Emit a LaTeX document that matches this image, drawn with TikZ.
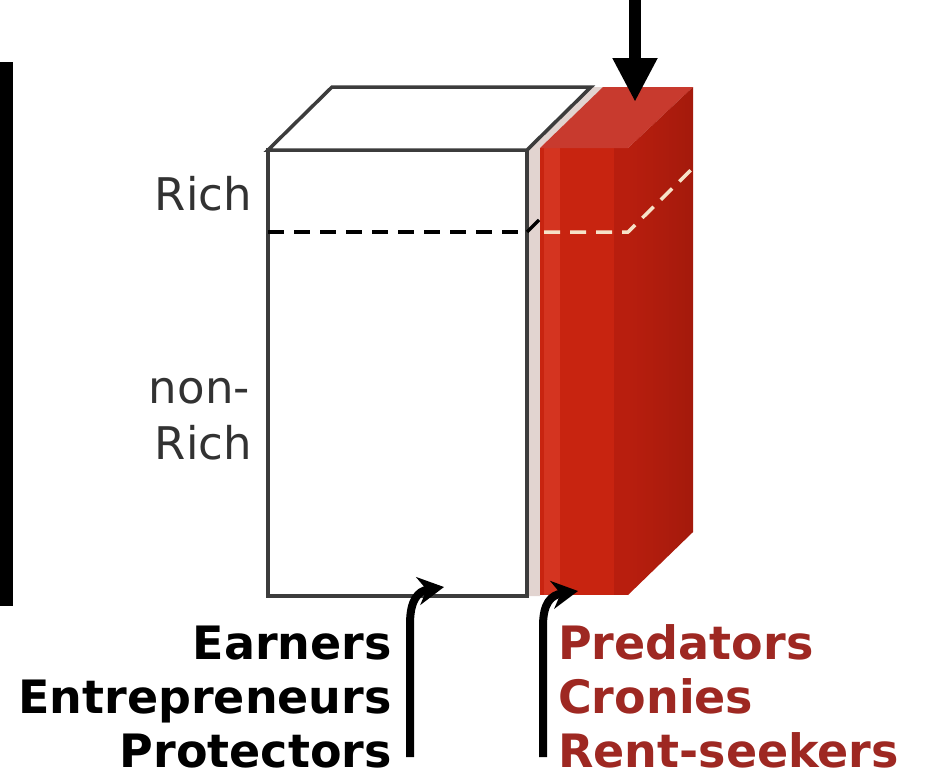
\documentclass[tikz,border=0pt]{standalone}
\usepackage{fontspec}
\setmainfont{DejaVu Sans}
\usetikzlibrary{arrows.meta}
\definecolor{redfront}{RGB}{200,36,16}
\definecolor{redlight}{RGB}{212,52,32}
\definecolor{reddark}{RGB}{184,30,14}
\definecolor{redside}{RGB}{164,26,12}
\definecolor{redtop}{RGB}{200,58,46}
\definecolor{stripgray}{RGB}{226,212,208}
\definecolor{boxgray}{RGB}{60,60,60}
\definecolor{labelgray}{RGB}{50,50,50}
\definecolor{labelred}{RGB}{158,40,34}
\definecolor{creamdash}{RGB}{246,226,200}
\tikzset{
  boxline/.style={draw=boxgray, line width=3.5pt, line join=miter},
  richlabel/.style={anchor=base east, inner sep=0pt, text=labelgray, font=\fontsize{45}{45}\selectfont},
  goodlabel/.style={anchor=base east, inner sep=0pt, text=black, font=\bfseries\fontsize{46}{46}\selectfont},
  badlabel/.style={anchor=base west, inner sep=0pt, text=labelred, font=\bfseries\fontsize{46}{46}\selectfont},
  splitdash/.style={line width=3.5pt, dash pattern=on 16pt off 10pt},
  curvearrow/.style={line width=8pt, -{Stealth[width=28pt,length=26pt]}},
}
\begin{document}
\begin{tikzpicture}[x=1pt,y=-1pt]
\useasboundingbox (0,0) rectangle (925,780);
\fill[white] (0,0) rectangle (925,780);
% left bar
\fill[black] (0,62) rectangle (13,606);
% white box
\coordinate (wFTL) at (268,150);
\coordinate (wFTR) at (527,150);
\coordinate (wFBL) at (268,596);
\coordinate (wFBR) at (527,596);
\coordinate (wBTL) at (332,87);
\coordinate (wBTR) at (591,87);
\fill[stripgray] (wFTR) -- (wBTR) -- (603,87) -- (540,148) -- (540,596) -- (wFBR) -- cycle;
\draw[boxline, fill=white] (wFBL) rectangle (wFTR);
\draw[boxline, fill=white] (wFTL) -- (wBTL) -- (wBTR) -- (wFTR) -- cycle;
% red box
\coordinate (rFTL) at (540,148);
\coordinate (rFTR) at (628,148);
\coordinate (rFBL) at (540,595);
\coordinate (rFBR) at (628,595);
\coordinate (rBTL) at (603,87);
\coordinate (rBTR) at (693,87);
\coordinate (rBBR) at (693,532);
\fill[redfront] (rFBL) rectangle (rFTR);
\fill[redlight] (544,148) rectangle (560,595);
\fill[reddark] (614,148) rectangle (628,595);
\fill[redtop] (rFTL) -- (rBTL) -- (rBTR) -- (rFTR) -- cycle;
\shade[left color=reddark, right color=redside] (rFTR) -- (rBTR) -- (rBBR) -- (rFBR) -- cycle;
% split line
\draw[splitdash, black] (268,232) -- (527,232);
\draw[line width=3.5pt, black] (527,232) -- (539,220);
\draw[splitdash, creamdash] (544,232) -- (628,232) -- (693,168);
% top arrow
\coordinate (topin) at (635,-5);
\coordinate (redin) at (635,102);
\draw[line width=12pt, -{Triangle[width=42pt,length=44pt]}] (topin) -- (redin);
% bottom arrows
\coordinate (lbot) at (410,757);
\coordinate (ltip) at (444,587);
\draw[curvearrow] (lbot) -- (410,624) .. controls (410,600) and (418,591) .. (ltip);
\coordinate (rbot) at (543,757);
\coordinate (rtip) at (578,591);
\draw[curvearrow] (rbot) -- (543,626) .. controls (543,603) and (551,595) .. (rtip);
% labels
\node[richlabel] (rich) at (252,210) {Rich};
\node[richlabel] (non) at (250,403) {non-};
\node[richlabel] (rich2) at (252,459) {Rich};
\node[goodlabel] (earn) at (392,659) {Earners};
\node[goodlabel] (entre) at (392,713) {Entrepreneurs};
\node[goodlabel] (prot) at (392,767) {Protectors};
\node[badlabel] (pred) at (558,659) {Predators};
\node[badlabel] (cron) at (558,713) {Cronies};
\node[badlabel] (rent) at (558,767) {Rent-seekers};
\end{tikzpicture}
\end{document}
